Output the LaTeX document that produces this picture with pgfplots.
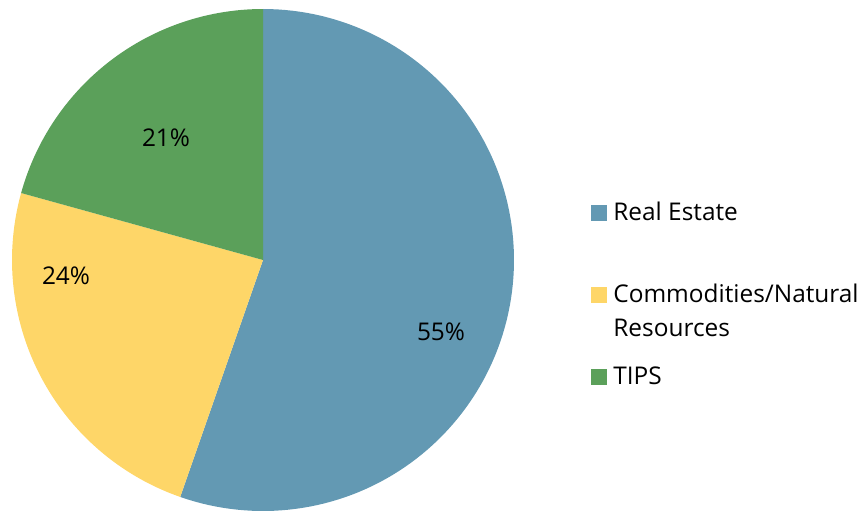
\documentclass[border=0pt]{standalone}
\usepackage{fontspec}
\setmainfont{Open Sans}
\usepackage{pgfplots}
\pgfplotsset{compat=1.18}

\definecolor{realestate}{HTML}{6399B3}
\definecolor{commod}{HTML}{FED668}
\definecolor{tips}{HTML}{5BA05A}

% slice shares in percent (as drawn; labels are rounded)
\def\vRE{55.35}
\def\vCO{23.95}
\def\vTI{20.7}
% pie centre and radius in pixel units of the 860x513 canvas
\def\cx{263}
\def\cy{260}
\def\rr{251}

\pgfmathsetmacro{\aA}{90}
\pgfmathsetmacro{\aB}{\aA-3.6*\vRE}
\pgfmathsetmacro{\aC}{\aB-3.6*\vCO}
\pgfmathsetmacro{\aD}{\aC-3.6*\vTI}

\tikzset{lbl/.style={font=\fontsize{12.2}{16}\selectfont, inner sep=0pt, text=black}}

\begin{document}
\begin{tikzpicture}
\begin{axis}[
  width=430pt, height=256.5pt, scale only axis,
  xmin=0, xmax=860, ymin=0, ymax=513, y dir=reverse,
  axis line style={draw=none}, ticks=none, clip=false,
]
% invisible frame so the page is the full canvas
\addplot[draw=none, forget plot] coordinates {(0,0) (860,513)};

\addplot[fill=realestate, draw=none, domain=\aA:\aB, samples=120]
  ({\cx+\rr*cos(x)}, {\cy-\rr*sin(x)}) -- (axis cs:\cx,\cy) -- cycle;
\addplot[fill=commod, draw=none, domain=\aB:\aC, samples=60]
  ({\cx+\rr*cos(x)}, {\cy-\rr*sin(x)}) -- (axis cs:\cx,\cy) -- cycle;
\addplot[fill=tips, draw=none, domain=\aC:\aD, samples=60]
  ({\cx+\rr*cos(x)}, {\cy-\rr*sin(x)}) -- (axis cs:\cx,\cy) -- cycle;

% data labels
\node[lbl] at (axis cs:441,332) {55\%};
\node[lbl] at (axis cs:66,276) {24\%};
\node[lbl] at (axis cs:166,138) {21\%};

% legend keys
\addplot[only marks, mark=square*, mark size=3.75pt, color=realestate] coordinates {(599,213)};
\addplot[only marks, mark=square*, mark size=3.75pt, color=commod] coordinates {(599,295)};
\addplot[only marks, mark=square*, mark size=3.75pt, color=tips] coordinates {(599,377)};
\node[lbl, anchor=base west] at (axis cs:613,220.7) {Real Estate};
\node[lbl, anchor=base west] at (axis cs:613,302.3) {Commodities/Natural};
\node[lbl, anchor=base west] at (axis cs:613,336.7) {Resources};
\node[lbl, anchor=base west] at (axis cs:613,384) {TIPS};
\end{axis}
\end{tikzpicture}
\end{document}
